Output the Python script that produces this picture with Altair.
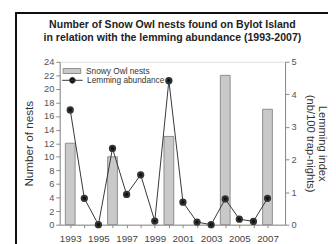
import altair as alt
import pandas as pd

years = list(range(1993, 2008))
lemming = [3.52, 0.81, 0.0, 2.34, 0.93, 1.53, 0.11, 4.42, 0.69, 0.08, 0.0, 0.79, 0.17, 0.10, 0.81]
owl_years = [1993, 1996, 2000, 2004, 2007]
owl_nests = [12, 10, 13, 22, 17]

FONT = "Liberation Sans"

owl_df = pd.DataFrame({"year": owl_years, "nests": owl_nests, "s": ["Snowy Owl nests"] * len(owl_years)})
lem_df = pd.DataFrame({"year": years, "lem": lemming, "l": ["Lemming abundance"] * len(years)})

xscale = alt.Scale(domain=[1992.6, 2007.9], nice=False, zero=False)
xaxis = alt.Axis(values=years, labelExpr="datum.value % 2 == 1 ? datum.value : ''",
                 format="d", grid=False, tickSize=3, labelFontSize=10, labelColor="#444",
                 domainColor="#888", tickColor="#888", labelPadding=6, title=None,
                 labelFont=FONT, labelOverlap=False)

bars = alt.Chart(owl_df).mark_bar(width=10, stroke="#8c8c8c", strokeWidth=1).encode(
    x=alt.X("year:Q", scale=xscale, axis=xaxis),
    y=alt.Y("nests:Q", scale=alt.Scale(domain=[0, 24], nice=False),
            axis=alt.Axis(values=list(range(0, 25, 2)), grid=False, tickSize=4,
                          labelFontSize=9.5, labelColor="#555", domainColor="#888",
                          tickColor="#888", title="Number of nests", titleFontSize=12,
                          titleFont=FONT, labelFont=FONT, titleFontWeight="normal",
                          titleColor="#333", titlePadding=8)),
    fill=alt.Fill("s:N", scale=alt.Scale(range=["#c9c9c9"]),
                  legend=alt.Legend(title=None, orient="none", legendX=3, legendY=0,
                                    symbolType="M-1,-0.28H1V0.28H-1Z", symbolSize=324,
                                    symbolStrokeColor="#8c8c8c", symbolStrokeWidth=1,
                                    labelFontSize=8.5, labelFont=FONT, labelColor="#333",
                                    labelOffset=5)),
)

line = alt.Chart(lem_df).mark_line(
    strokeWidth=1,
    point=alt.OverlayMarkDef(filled=True, fill="#111", stroke="#111", size=30),
).encode(
    x=alt.X("year:Q", scale=xscale, axis=xaxis),
    y=alt.Y("lem:Q", scale=alt.Scale(domain=[0, 5], nice=False),
            axis=alt.Axis(orient="right", values=[0, 1, 2, 3, 4, 5], grid=False, tickSize=4,
                          labelFontSize=9.5, labelColor="#555", domainColor="#888",
                          tickColor="#888", title=["Lemming index", "(nb/100 trap-nights)"],
                          titleAngle=90, titleFontSize=11.5, titleFont=FONT, labelFont=FONT,
                          titleFontWeight="normal", titleColor="#333", titlePadding=9,
                          titleLineHeight=12)),
    stroke=alt.Stroke("l:N", scale=alt.Scale(range=["#333333"]),
                      legend=alt.Legend(title=None, orient="none", legendX=2, legendY=8,
                                        symbolType="M-1,0H1M-0.28,0A0.28,0.28 0 1,1 0.28,0A0.28,0.28 0 1,1 -0.28,0Z",
                                        symbolSize=441, symbolFillColor="#111",
                                        symbolStrokeWidth=1,
                                        labelFontSize=8.5, labelFont=FONT, labelColor="#333",
                                        labelOffset=4)),
)

frame_top = alt.Chart(lem_df).mark_rule(color="#111", strokeWidth=1.5).encode(
    x=alt.value(-45), x2=alt.value(275), y=alt.value(-50))
frame_left = alt.Chart(lem_df).mark_rule(color="#111", strokeWidth=1.5).encode(
    x=alt.value(-45), y=alt.value(-50), y2=alt.value(200))

chart = alt.layer(bars, line, frame_top, frame_left).resolve_scale(
    y="independent", fill="independent", stroke="independent"
).properties(
    width=231, height=167,
    title=alt.TitleParams(["Number of Snow Owl nests found on Bylot Island",
                           "in relation with the lemming abundance (1993-2007)"],
                          anchor="middle", fontSize=10.8, font=FONT, fontWeight="bold",
                          color="#222", lineHeight=13, offset=0, dy=31),
    autosize=alt.AutoSizeParams(type="none"),
    padding={"left": 53, "top": 52, "right": 44, "bottom": 30},
).configure_view(stroke=None).configure_axisX(labelOverlap=False).configure(background="white")

chart.save("out.html", embed_options={"renderer": "svg", "actions": False})
